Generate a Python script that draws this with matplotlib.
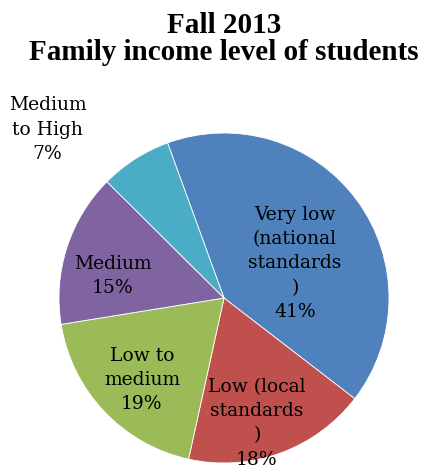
import matplotlib
matplotlib.use('Agg')
import matplotlib.pyplot as plt

# income groups, clockwise from the top
labels = ['Very low\n(national\nstandards\n)', 'Low (local\nstandards\n)', 'Low to\nmedium', 'Medium', 'Medium\nto High']
shares = [41, 18, 19, 15, 7]
colors = ['#4F81BD', '#C0504D', '#9BBB59', '#8064A2', '#4BACC6']

# label centres in pie units (radius = 1)
label_xy = [(0.43, 0.21), (0.20, -0.76), (-0.497, -0.497), (-0.673, 0.133), (-1.07, 1.02)]

fig = plt.figure(figsize=(4.22, 4.66), dpi=100)
ax = fig.add_axes([59 / 422, 3 / 466, 330 / 422, 330 / 466])

wedges, _ = ax.pie(shares, colors=colors, startangle=110, counterclock=False,
                   wedgeprops=dict(edgecolor='white', linewidth=0.6))
ax.set_xlim(-1, 1)
ax.set_ylim(-1, 1)
ax.set_aspect('equal')
ax.axis('off')

for lab, val, (x, y) in zip(labels, shares, label_xy):
    ax.text(x, y, '%s\n%d%%' % (lab, val), ha='center', va='center',
            family='DejaVu Serif', fontsize=13.5, linespacing=1.45, clip_on=False)

fig.text(0.53, 0.929, 'Fall 2013', ha='center', va='baseline',
         family='Liberation Serif', fontweight='bold', fontsize=21)
fig.text(0.53, 0.871, 'Family income level of students', ha='center', va='baseline',
         family='Liberation Serif', fontweight='bold', fontsize=21)

fig.savefig('out.png', dpi=100)
